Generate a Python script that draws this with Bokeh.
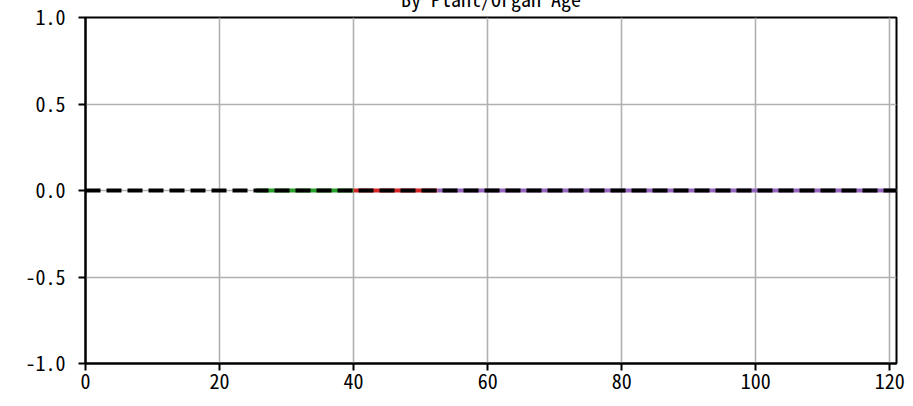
from bokeh.plotting import figure
from bokeh.models import Range1d, FixedTicker
from bokeh.embed import file_html
from bokeh.resources import INLINE

# Data
title_text = "By Plant/Organ Age"
green_x = [25.5, 40.0]
green_y = [0.0, 0.0]
red_x = [40.0, 52.5]
red_y = [0.0, 0.0]
purple_x = [52.5, 121.0]
purple_y = [0.0, 0.0]
ref_x = [0.0, 121.0]
ref_y = [0.0, 0.0]
x_ticks = [0, 20, 40, 60, 80, 100, 120]
y_ticks = [-1.0, -0.5, 0.0, 0.5, 1.0]
y_tick_labels = ["-1.0", "-0.5", "0.0", "0.5", "1.0"]

FONT = "Noto Sans Mono CJK JP"
SHIFT = 33

p = figure(width=913, height=406 + SHIFT, output_backend="svg", toolbar_location=None,
           x_range=Range1d(0, 121), y_range=Range1d(-1, 1),
           min_border_left=85, min_border_right=17, min_border_top=17 + SHIFT,
           min_border_bottom=43,
           styles={"margin-top": f"-{SHIFT}px"})
p.title.text = title_text
p.title.align = "center"
p.title.vertical_align = "bottom"
p.title.standoff = 10
p.title.text_font = FONT
p.title.text_font_size = "20px"
p.title.text_font_style = "normal"
p.title.text_color = "black"

p.background_fill_color = "white"
p.border_fill_color = "white"
p.outline_line_color = "black"
p.outline_line_width = 2

for ax in (p.xaxis[0], p.yaxis[0]):
    ax.axis_line_color = "black"
    ax.axis_line_width = 2
    ax.major_tick_line_color = "black"
    ax.major_tick_line_width = 2
    ax.major_tick_out = 7
    ax.major_tick_in = 0
    ax.minor_tick_line_color = None
    ax.major_label_text_font = FONT
    ax.major_label_text_font_size = "20px"
    ax.major_label_text_color = "black"

p.xaxis.ticker = FixedTicker(ticks=x_ticks)
p.yaxis.ticker = FixedTicker(ticks=y_ticks)
p.yaxis.major_label_overrides = {t: l for t, l in zip(y_ticks, y_tick_labels)}
p.xaxis.major_label_standoff = 3
p.yaxis.major_label_standoff = 13

p.xgrid.ticker = FixedTicker(ticks=x_ticks)
p.ygrid.ticker = FixedTicker(ticks=y_ticks)
for g in (p.xgrid[0], p.ygrid[0]):
    g.grid_line_color = "#b0b0b0"
    g.grid_line_width = 1.6

p.line(green_x, green_y, line_color="#2ca02c", line_width=4)
p.line(red_x, red_y, line_color="#d62728", line_width=4)
p.line(purple_x, purple_y, line_color="#9467bd", line_width=4)
p.line(ref_x, ref_y, line_color="black", line_width=4, line_dash="15 6")

open("out.html", "w").write(file_html(p, INLINE))
